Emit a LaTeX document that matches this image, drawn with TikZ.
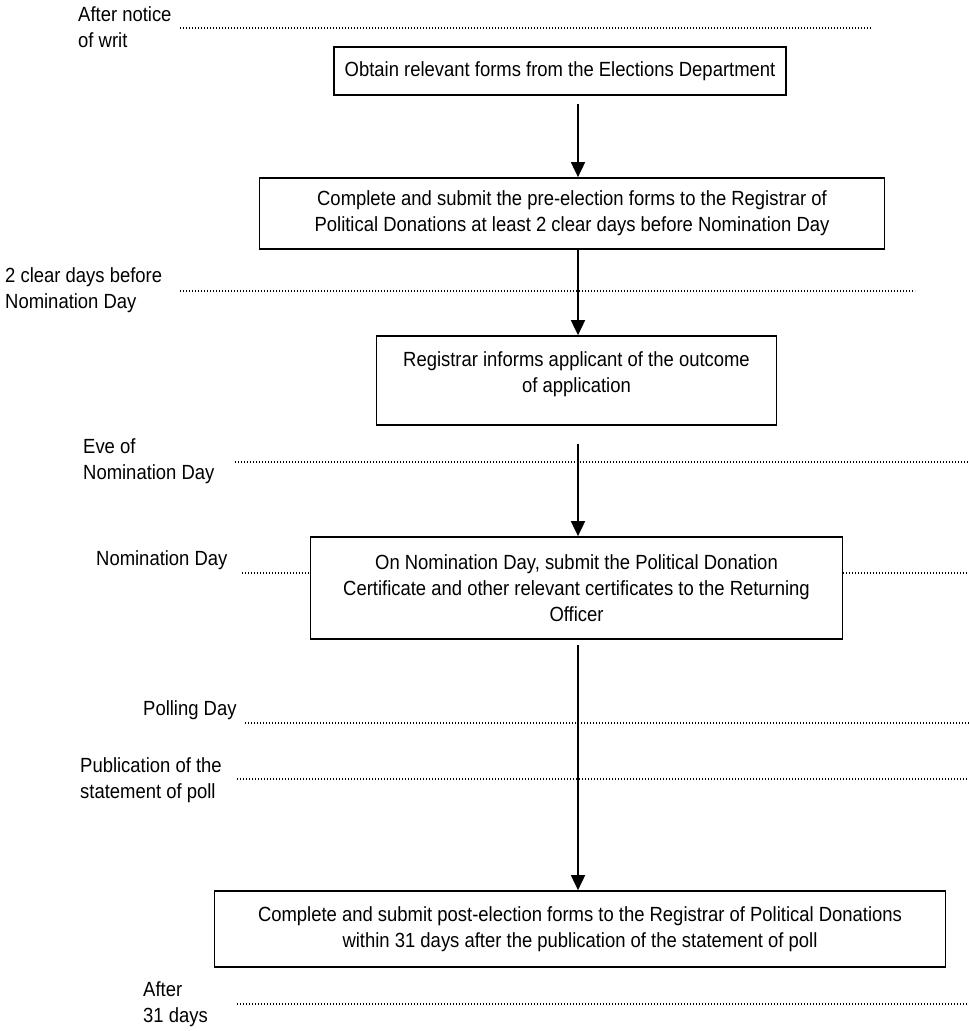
\documentclass[tikz,border=0pt]{standalone}
\usepackage{fontspec}
\setmainfont[FakeStretch=0.9]{Liberation Sans}
\usetikzlibrary{arrows.meta}
\begin{document}
\begin{tikzpicture}[x=1pt,y=-1pt,
    every node/.style={font=\fontsize{20.5}{26}\selectfont},
    box/.style={draw,line width=1.7pt,align=center,inner sep=4pt},
    when/.style={anchor=west,align=left,inner sep=0pt},
    guide/.style={line width=1.1pt,dash pattern=on 1.1pt off 1.9pt},
    flow/.style={line width=1.7pt,-{Triangle[length=15pt,width=14pt]}}]
  \useasboundingbox (0,0) rectangle (969,1031);
  % steps
  \node[box,minimum width=452pt,minimum height=48pt] (b1) at (560,71) {Obtain relevant forms from the Elections Department};
  \node[box,minimum width=625pt,minimum height=71pt] (b2) at (572,213.5) {Complete and submit the pre-election forms to the Registrar of\\Political Donations at least 2 clear days before Nomination Day};
  \node[box,minimum width=400pt,minimum height=89pt] (b3) at (576.5,380.5) {Registrar informs applicant of the outcome\\of application\\[-10pt]};
  \node[box,minimum width=532pt,minimum height=102pt] (b4) at (576.5,588) {On Nomination Day, submit the Political Donation\\Certificate and other relevant certificates to the Returning\\Officer};
  \node[box,minimum width=731pt,minimum height=76pt] (b5) at (580,929) {Complete and submit post-election forms to the Registrar of Political Donations\\within 31 days after the publication of the statement of poll};
  % timeline
  \node[when] (l1) at (78,27.5) {After notice\\of writ};
  \node[when] (l2) at (5,290) {2 clear days before\\Nomination Day};
  \node[when] (l3) at (83,461.5) {Eve of\\Nomination Day};
  \node[when] (l4) at (96,560) {Nomination Day};
  \node[when] (l5) at (143,710) {Polling Day};
  \node[when] (l6) at (80,780) {Publication of the\\statement of poll};
  \node[when] (l7) at (143,1004.5) {After\\31 days};
  \coordinate (g1) at (180,28);
  \coordinate (g2) at (180,291);
  \coordinate (g3) at (235,462);
  \coordinate (g4) at (242,573);
  \coordinate (g5) at (245,723);
  \coordinate (g6) at (237,779);
  \coordinate (g7) at (237,1004);
  \coordinate (edge) at (969,0);
  \draw[guide] (g1) -- (872,28);
  \draw[guide] (g2) -- (915,291);
  \draw[guide] (g3) -- (g3 -| edge);
  \draw[guide] (g4) -- (g4 -| b4.west) (g4 -| b4.east) -- (g4 -| edge);
  \draw[guide] (g5) -- (g5 -| edge);
  \draw[guide] (g6) -- (g6 -| edge);
  \draw[guide] (g7) -- (g7 -| edge);
  % arrows
  \coordinate (axis) at (578,0);
  \draw[flow,shorten <=8pt] (b1.south -| axis) -- (b2.north -| axis);
  \draw[flow] (b2.south -| axis) -- (b3.north -| axis);
  \draw[flow,shorten <=18pt] (b3.south -| axis) -- (b4.north -| axis);
  \draw[flow,shorten <=5pt] (b4.south -| axis) -- (b5.north -| axis);
\end{tikzpicture}
\end{document}
